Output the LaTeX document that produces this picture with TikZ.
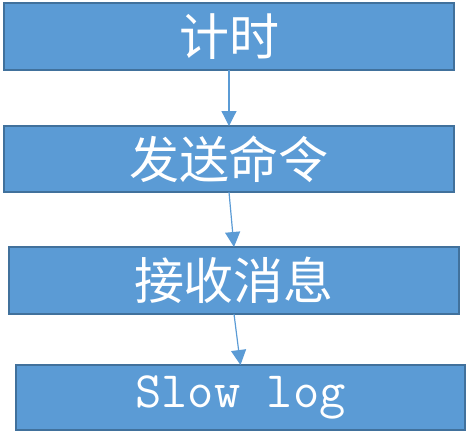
\documentclass[tikz,border=0pt]{standalone}
\usepackage{fontspec}
\newfontfamily\cjk{Noto Sans CJK SC}
\usetikzlibrary{arrows.meta}
\definecolor{boxfill}{HTML}{5B9BD5}
\definecolor{boxline}{HTML}{41719C}
\definecolor{arrline}{HTML}{5B9BD5}
\tikzset{
  flowbox/.style={draw=boxline, fill=boxfill, line width=2.5pt, inner sep=0pt, outer sep=0pt, text=white},
  flowarr/.style={draw=arrline, line width=1.2pt, -{Triangle[width=15pt,length=15pt]}},
  cjktext/.style={font=\cjk\fontsize{50}{52}\selectfont},
  latintext/.style={font=\ttfamily\fontsize{51}{52}\selectfont}
}
\begin{document}
\begin{tikzpicture}[x=1pt,y=-1pt]
\useasboundingbox (0,0) rectangle (467,432);
\node[flowbox, cjktext, minimum width=450pt, minimum height=67pt] (b1) at (229,36.5) {计时};
\node[flowbox, cjktext, minimum width=450pt, minimum height=66pt] (b2) at (229,159) {发送命令};
\node[flowbox, cjktext, minimum width=450pt, minimum height=67pt] (b3) at (234,280.5) {接收消息};
\node[flowbox, latintext, minimum width=449pt, minimum height=65pt] (b4) at (240.5,397.5) {Slow log};
\draw[flowarr] (b1.south) -- (b2.north);
\draw[flowarr] (b2.south) -- (b3.north);
\draw[flowarr] (b3.south) -- (b4.north);
\end{tikzpicture}
\end{document}
